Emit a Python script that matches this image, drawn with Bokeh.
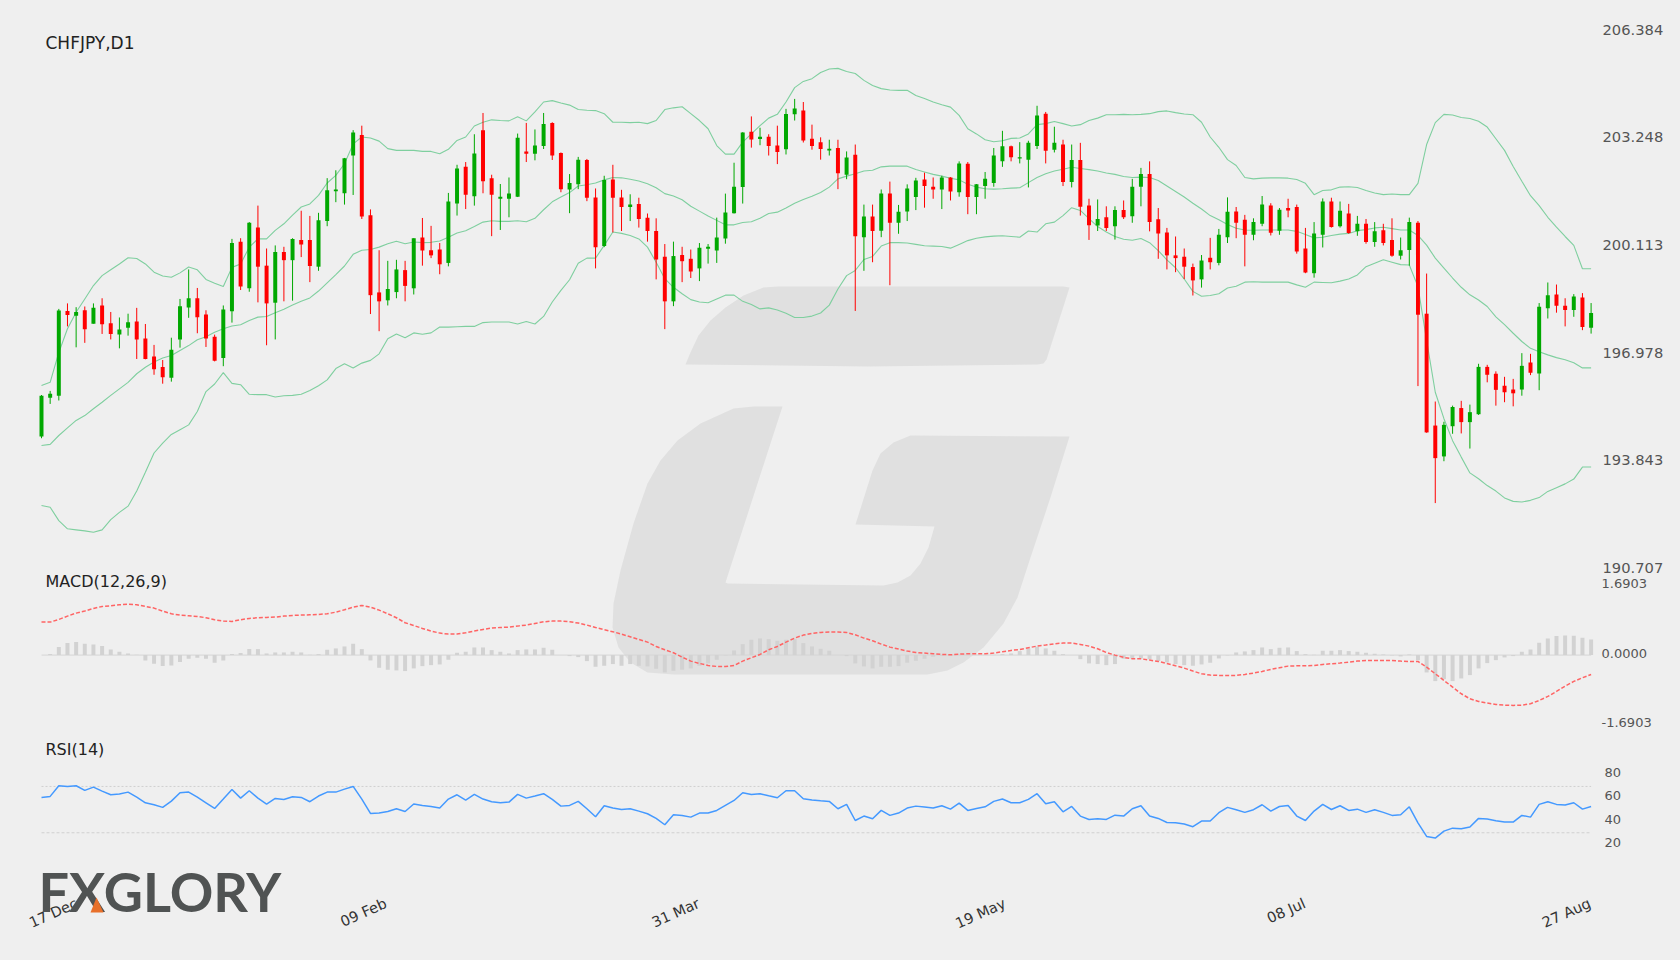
from bokeh.embed import file_html
from bokeh.models import ColumnDataSource, FixedTicker, Label, LinearAxis, NumeralTickFormatter, PolyAnnotation, Range1d
from bokeh.plotting import figure
from bokeh.resources import INLINE

# daily CHFJPY candles
opens = [194.55,195.68,195.74,198.21,198.07,198.23,197.84,198.37,197.85,197.52,
    197.72,197.90,197.41,196.88,196.58,196.26,197.38,198.31,198.58,198.11,
    197.46,196.84,198.20,200.23,198.87,200.64,199.53,198.45,199.93,199.69,
    200.28,200.28,199.50,200.83,201.70,201.64,202.74,203.34,201.00,198.75,
    198.52,198.76,199.40,198.87,200.35,199.98,200.00,199.61,201.34,202.41,
    201.55,203.48,202.08,201.48,201.48,201.54,202.86,202.79,203.02,203.69,
    202.81,201.75,201.90,202.61,201.52,200.10,202.04,201.52,201.24,201.33,
    200.93,200.54,199.79,198.49,199.84,199.73,199.45,200.02,199.97,200.32,
    201.06,201.82,203.43,203.22,203.29,203.03,202.92,203.94,204.05,203.23,
    203.13,202.89,202.96,202.18,202.76,200.36,200.96,200.55,201.63,200.78,
    201.11,201.53,202.04,201.83,201.75,202.10,201.67,202.50,201.53,201.85,
    201.94,202.57,203.01,202.65,202.62,203.02,203.96,202.91,203.06,201.97,
    202.61,201.28,200.70,200.94,200.68,201.15,200.97,201.83,202.20,200.88,
    200.50,199.83,199.79,199.49,199.13,199.76,199.61,200.36,201.11,200.87,
    200.43,200.75,201.28,200.55,201.21,201.24,200.03,199.31,200.43,201.40,
    200.68,201.05,200.53,200.75,200.22,200.56,200.28,199.82,199.99,200.78,
    198.13,194.87,193.97,194.85,195.38,194.97,195.20,196.58,196.38,196.03,
    195.92,195.92,196.71,196.39,198.29,198.69,198.36,198.24,198.60,197.72]
highs = [195.76,195.88,198.27,198.43,198.32,198.34,198.43,198.58,198.18,198.02,
    198.13,198.30,197.83,197.22,196.78,197.43,198.56,199.42,198.88,198.23,
    197.52,198.37,200.31,200.33,200.80,201.28,200.03,200.12,200.08,200.33,
    201.13,200.98,201.07,202.08,202.31,202.67,203.48,203.61,201.17,199.98,
    199.67,199.70,199.67,200.33,200.92,200.69,200.19,201.65,202.47,202.55,
    203.36,203.98,202.18,201.91,202.10,203.38,203.69,203.50,203.98,203.71,
    202.83,202.20,202.70,202.64,201.78,202.15,202.47,201.74,201.61,201.51,
    201.05,200.91,200.16,200.23,200.08,200.00,200.19,200.16,200.93,201.63,
    202.53,203.42,203.88,203.55,203.36,203.61,204.10,204.39,204.30,203.64,
    203.27,203.20,203.20,202.86,203.06,201.31,201.31,201.75,201.98,201.30,
    201.90,202.09,202.24,202.10,202.15,202.11,202.57,202.55,201.91,202.26,
    202.96,203.46,203.03,203.13,203.17,204.19,204.01,203.58,203.20,203.06,
    203.11,201.48,201.46,201.26,201.26,201.43,202.06,202.38,202.57,201.21,
    200.63,200.38,200.03,199.59,199.84,200.34,200.60,201.52,201.24,201.01,
    200.91,201.56,201.35,201.21,201.48,201.31,200.63,200.80,201.49,201.51,
    201.40,201.33,200.98,200.89,200.80,200.75,200.91,200.35,200.93,200.83,
    199.30,195.57,194.98,195.45,195.59,195.48,196.67,196.64,196.45,196.29,
    196.23,196.98,196.96,198.44,199.04,198.98,198.58,198.70,198.73,198.44]
lows = [194.50,195.50,195.60,197.76,197.15,197.28,197.84,197.54,197.38,197.12,
    197.49,196.81,196.80,196.35,196.09,196.15,197.14,198.01,197.56,197.16,
    196.74,196.60,197.87,198.82,198.77,198.46,197.21,197.38,198.49,198.51,
    199.78,199.05,199.38,200.68,201.38,201.31,201.59,200.89,198.12,197.62,
    198.37,198.58,198.49,198.69,199.53,199.75,199.28,199.51,200.99,201.18,
    201.28,201.64,200.39,200.57,200.94,201.53,202.55,202.60,202.93,202.61,
    201.67,201.06,201.76,201.41,199.45,200.07,200.50,200.54,200.83,200.64,
    200.23,199.13,197.68,198.35,199.05,199.17,199.08,199.59,199.61,200.17,
    201.05,201.34,202.97,203.04,202.74,202.49,202.77,203.76,203.12,202.91,
    202.62,202.74,201.76,202.05,198.21,199.38,199.63,200.36,198.96,200.46,
    200.83,201.15,201.22,201.48,201.18,201.43,201.54,201.03,201.03,201.48,
    201.83,202.41,202.57,202.51,201.81,202.93,202.51,202.83,201.85,201.81,
    200.99,200.28,200.54,200.54,200.29,200.89,200.78,201.26,200.53,199.73,
    199.42,199.34,199.14,198.66,198.89,199.42,199.54,200.19,200.33,199.51,
    200.27,200.68,200.41,200.43,200.94,199.88,199.31,199.18,200.06,200.64,
    200.64,200.46,200.40,200.17,200.08,200.12,199.79,199.71,199.53,196.02,
    194.66,192.61,193.83,194.63,194.64,194.20,195.18,196.13,195.45,195.55,
    195.43,195.74,196.34,195.90,197.99,198.16,197.76,198.04,197.65,197.55]
closes = [195.74,195.80,198.22,198.09,198.18,197.68,198.30,197.82,197.54,197.67,
    197.88,197.38,196.81,196.51,196.28,197.08,198.35,198.58,198.03,197.41,
    196.76,198.25,200.19,198.92,200.78,199.50,198.43,199.93,199.69,200.31,
    200.15,199.52,200.85,201.73,201.75,202.66,203.41,200.96,198.67,198.49,
    198.85,199.42,198.94,200.33,199.97,199.83,199.57,201.40,202.36,201.60,
    202.80,201.99,201.60,201.54,201.63,203.26,202.79,203.03,203.66,202.74,
    201.76,201.94,202.62,201.51,200.07,202.03,201.51,201.24,201.31,200.89,
    200.54,199.71,198.49,199.81,199.66,199.36,200.05,200.08,200.35,201.08,
    201.83,203.41,203.21,203.29,203.02,202.84,203.95,204.11,203.18,203.02,
    202.93,202.94,202.22,202.68,200.39,200.96,200.54,201.63,200.78,201.10,
    201.78,202.01,201.85,201.75,202.10,201.69,202.51,201.53,201.90,202.06,
    202.74,203.01,202.69,202.69,203.11,203.91,202.88,203.11,201.97,202.61,
    201.25,200.71,200.89,200.63,201.15,200.94,201.83,202.20,200.80,200.47,
    199.83,199.75,199.50,199.10,199.68,199.63,200.43,201.10,200.78,200.43,
    200.80,201.31,200.49,201.16,201.14,199.94,199.33,200.47,201.40,200.66,
    201.13,200.48,200.75,200.22,200.53,200.19,199.82,199.98,200.80,198.10,
    194.67,193.92,194.89,195.41,194.97,195.26,196.58,196.35,195.91,195.84,
    195.81,196.61,196.41,198.33,198.67,198.36,198.24,198.63,197.74,198.15]

bb_upper = [196.04,196.13,197.00,197.69,198.17,198.56,198.95,199.24,199.41,199.58,
    199.76,199.74,199.58,199.34,199.23,199.19,199.32,199.49,199.41,199.13,
    199.02,198.92,199.48,199.58,200.07,200.31,200.31,200.56,200.75,201.00,
    201.24,201.33,201.58,201.94,202.16,202.50,203.08,203.28,203.25,203.16,
    202.94,202.89,202.89,202.89,202.86,202.86,202.79,202.92,203.18,203.28,
    203.60,203.71,203.78,203.76,203.75,203.87,203.75,204.01,204.30,204.34,
    204.27,204.21,204.08,204.06,204.05,203.96,203.71,203.71,203.70,203.71,
    203.67,203.76,204.08,204.13,204.16,203.96,203.76,203.52,203.03,202.78,
    202.78,203.13,203.37,203.61,203.83,203.94,204.30,204.72,204.90,204.98,
    205.16,205.26,205.28,205.19,205.13,204.93,204.78,204.69,204.65,204.64,
    204.64,204.49,204.40,204.30,204.22,204.15,203.91,203.52,203.37,203.20,
    203.14,203.17,203.24,203.25,203.37,203.64,203.67,203.73,203.67,203.60,
    203.64,203.76,203.83,203.93,203.93,203.94,203.93,203.94,203.96,204.02,
    204.04,203.99,203.95,203.93,203.71,203.28,202.98,202.62,202.45,202.10,
    202.06,202.08,202.09,202.09,202.08,202.04,201.93,201.60,201.72,201.74,
    201.82,201.83,201.81,201.72,201.65,201.60,201.62,201.60,201.60,201.93,
    203.06,203.70,203.94,203.92,203.85,203.82,203.74,203.57,203.23,202.89,
    202.42,201.99,201.57,201.28,200.94,200.65,200.38,200.12,199.44,199.44]
bb_mid = [194.29,194.32,194.58,194.80,195.02,195.16,195.36,195.55,195.75,195.94,
    196.13,196.38,196.57,196.72,196.84,196.91,197.06,197.20,197.37,197.46,
    197.59,197.69,197.77,197.81,197.93,198.03,198.05,198.16,198.26,198.38,
    198.49,198.59,198.79,199.03,199.27,199.52,199.86,199.98,200.00,200.07,
    200.17,200.24,200.17,200.22,200.20,200.21,200.25,200.36,200.48,200.55,
    200.67,200.80,200.84,200.82,200.82,200.84,200.81,200.91,201.16,201.39,
    201.53,201.66,201.85,201.89,201.94,202.03,202.10,202.09,202.05,202.00,
    201.92,201.80,201.63,201.56,201.45,201.26,201.12,200.98,200.85,200.72,
    200.72,200.79,200.81,200.91,201.05,201.09,201.21,201.35,201.46,201.55,
    201.66,201.82,202.06,202.14,202.21,202.29,202.31,202.41,202.43,202.43,
    202.43,202.33,202.26,202.19,202.14,202.08,202.03,201.90,201.82,201.77,
    201.76,201.77,201.79,201.80,201.95,202.10,202.21,202.29,202.34,202.40,
    202.36,202.33,202.29,202.23,202.19,202.13,202.10,202.11,202.10,202.01,
    201.85,201.69,201.53,201.35,201.18,200.99,200.87,200.73,200.62,200.57,
    200.56,200.57,200.57,200.57,200.57,200.53,200.44,200.34,200.36,200.41,
    200.45,200.47,200.55,200.58,200.63,200.65,200.61,200.57,200.57,200.41,
    200.13,199.75,199.46,199.17,198.90,198.68,198.53,198.34,198.04,197.81,
    197.56,197.32,197.12,197.02,196.93,196.85,196.79,196.70,196.55,196.55]
bb_lower = [192.54,192.49,192.10,191.86,191.83,191.80,191.76,191.83,192.13,192.34,
    192.52,192.96,193.51,194.07,194.36,194.61,194.75,194.89,195.28,195.86,
    196.08,196.41,196.10,196.06,195.78,195.77,195.77,195.70,195.74,195.75,
    195.78,195.89,196.03,196.20,196.53,196.67,196.55,196.69,196.77,196.96,
    197.40,197.54,197.43,197.57,197.53,197.57,197.74,197.74,197.75,197.76,
    197.76,197.87,197.89,197.89,197.89,197.83,197.90,197.83,198.05,198.47,
    198.81,199.12,199.60,199.75,199.75,200.12,200.51,200.47,200.41,200.31,
    200.07,199.63,199.15,198.90,198.71,198.54,198.47,198.45,198.56,198.67,
    198.67,198.49,198.40,198.27,198.30,198.24,198.14,198.02,198.02,198.06,
    198.15,198.38,198.85,199.24,199.39,199.71,199.80,200.10,200.20,200.20,
    200.19,200.15,200.11,200.10,200.09,200.04,200.15,200.26,200.33,200.37,
    200.39,200.40,200.38,200.36,200.54,200.51,200.75,200.80,200.99,201.22,
    201.14,200.90,200.67,200.51,200.38,200.30,200.27,200.32,200.20,199.97,
    199.70,199.47,199.14,198.78,198.64,198.66,198.71,198.88,198.93,199.05,
    199.06,199.05,199.05,199.05,199.05,198.97,198.90,199.05,199.04,199.03,
    199.08,199.14,199.26,199.50,199.60,199.70,199.63,199.56,199.55,198.92,
    197.35,195.84,195.07,194.43,193.95,193.49,193.32,193.12,192.96,192.76,
    192.66,192.64,192.69,192.77,192.95,193.06,193.17,193.31,193.66,193.66]

macd_signal = [.797,.797,.861,.942,1.014,1.063,1.127,1.175,1.191,1.216,
    1.232,1.216,1.175,1.135,1.063,.998,.966,.95,.934,.902,
    .853,.821,.813,.853,.886,.902,.91,.918,.942,.958,
    .966,.974,.982,.998,1.038,1.095,1.159,1.199,1.159,1.087,
    .998,.902,.781,.716,.644,.58,.531,.507,.507,.539,
    .58,.62,.652,.668,.676,.7,.725,.765,.805,.821,
    .821,.805,.773,.725,.668,.612,.564,.507,.443,.378,
    .314,.209,.129,.056,-.048,-.145,-.201,-.25,-.274,-.274,
    -.25,-.145,-.064,.016,.129,.209,.314,.411,.483,.523,
    .547,.555,.555,.547,.491,.411,.346,.266,.193,.145,
    .097,.064,.048,.032,.016,.008,.024,.032,.032,.032,
    .048,.081,.113,.137,.177,.217,.242,.274,.29,.29,
    .258,.217,.153,.064,0,-.056,-.089,-.089,-.121,-.153,
    -.201,-.258,-.314,-.386,-.451,-.483,-.491,-.491,-.491,-.467,
    -.435,-.394,-.346,-.306,-.266,-.258,-.258,-.25,-.225,-.209,
    -.193,-.169,-.145,-.129,-.129,-.129,-.129,-.145,-.153,-.153,
    -.29,-.451,-.612,-.773,-.934,-1.055,-1.119,-1.159,-1.191,-1.208,
    -1.216,-1.208,-1.175,-1.095,-.998,-.877,-.749,-.636,-.547,-.467]
macd_hist = [0,.024,.193,.29,.314,.274,.258,.217,.137,.081,
    .04,.008,-.129,-.209,-.266,-.25,-.169,-.089,-.064,-.089,
    -.185,-.129,.024,.048,.145,.145,.04,.064,.064,.081,
    .064,.008,.024,.129,.161,.209,.274,.145,-.129,-.306,
    -.354,-.37,-.386,-.322,-.266,-.242,-.225,-.113,.056,.081,
    .185,.185,.121,.081,.04,.121,.137,.137,.177,.129,
    0,-.024,-.048,-.145,-.282,-.258,-.217,-.258,-.217,-.258,
    -.274,-.33,-.419,-.378,-.354,-.322,-.258,-.201,-.113,-.008,
    .113,.266,.37,.403,.386,.346,.37,.386,.29,.209,
    .153,.105,0,-.024,-.201,-.274,-.322,-.282,-.282,-.266,
    -.185,-.137,-.089,-.04,-.016,.008,.008,.008,.008,.008,
    .008,.024,.04,.097,.161,.201,.161,.105,.024,0,
    -.097,-.201,-.217,-.242,-.217,-.089,-.081,-.081,-.097,-.145,
    -.177,-.217,-.242,-.258,-.225,-.185,-.081,-.008,.064,.089,
    .121,.185,.145,.177,.185,.097,.024,.008,.105,.105,
    .121,.097,.081,.056,.032,.016,-.008,-.032,.016,-.121,
    -.419,-.628,-.58,-.628,-.564,-.483,-.322,-.193,-.121,-.056,
    -.024,.081,.137,.298,.403,.459,.475,.467,.419,.378]
rsi = [60.5,61.4,70.6,70.0,70.6,66.6,69.4,66.0,62.8,63.4,
    65.1,60.8,55.9,54.2,51.9,57.3,64.5,65.1,60.8,55.9,
    51.0,59.1,67.4,59.9,66.3,59.9,54.8,59.6,58.8,61.1,
    60.5,56.8,61.7,65.1,65.1,67.7,70.0,59.1,46.7,47.0,
    48.4,50.7,48.4,54.8,53.6,52.7,51.3,59.1,62.8,58.2,
    63.1,59.1,56.8,55.9,56.5,63.1,59.9,61.7,63.7,58.8,
    53.0,53.6,57.1,50.7,43.8,53.3,51.3,50.1,50.7,48.7,
    46.4,42.4,36.9,45.5,45.0,43.5,47.0,47.0,49.3,53.6,
    57.9,64.5,63.1,63.7,61.9,60.2,66.3,66.3,59.4,58.2,
    57.6,57.1,50.7,54.5,40.6,44.4,42.1,49.3,45.0,47.0,
    51.3,53.0,52.2,51.3,53.3,50.4,55.6,49.3,51.0,52.4,
    57.1,59.1,55.9,55.9,58.8,63.7,55.0,56.8,48.1,52.7,
    44.4,41.5,42.1,41.5,45.2,44.4,50.7,53.3,44.4,42.4,
    38.9,38.6,37.5,35.2,40.1,40.1,47.3,51.9,49.9,47.6,
    49.9,54.2,48.7,52.7,53.6,44.4,40.6,48.7,54.5,50.1,
    53.3,49.3,50.4,47.6,49.9,47.6,45.0,45.5,52.4,38.6,
    26.8,25.4,31.4,34.0,33.4,34.9,42.4,41.8,40.4,39.2,
    39.2,45.0,43.5,54.5,56.8,54.5,53.9,55.9,50.4,52.7]

price_ticks = [206.384, 203.248, 200.113, 196.978, 193.843, 190.707]
macd_ticks = [1.6903, 0.0, -1.6903]
rsi_ticks = [80, 60, 40, 20]
rsi_levels = [70, 30]
# label anchors on the date axis (rotated labels hang to the left of their tick)
date_bars = [4.07, 39.77, 75.92, 111.27, 145.92, 178.87]
date_labels = ["17 Dec", "09 Feb", "31 Mar", "19 May", "08 Jul", "27 Aug"]

# G watermark outline and logo triangle, in page pixels (decoration, not data)
g_top_x = [685,690,698,710,725,743,763,777,1063,1069,1046,1043,1037,867]
g_top_y = [364,352,335,320,307,295,287,286,286,287,359,363,364,366]
g_low_x = [782,725,727,883,897,910,920,928,934,855,872,880,893,910,1069,1050,1030,1017,1003,983,
    963,947,927,673,647,630,618,612,613,620,633,647,660,677,700,733,753]
g_low_y = [406,582,583,585,582,575,563,547,526,524,470,453,442,435,436,497,557,597,623,647,
    662,670,674,674,672,662,647,627,603,570,523,483,460,440,423,408,406]
tri_x = [90, 96, 103]
tri_y = [912, 897, 912]

W, H = 1680, 960
RIGHT, BOTTOM = 1598, 925   # frame edges on the page
bg = "#efefef"

def bar(px):
    return (px - 41) / 8.657

def span(y0, val0, per_px):
    # value range of the frame from one known page height and the scale
    return Range1d(val0 - (BOTTOM - y0) * per_px, val0 + y0 * per_px)

p = figure(width=W, height=H, frame_width=RIGHT, frame_height=BOTTOM, output_backend="svg", toolbar_location=None,
           x_range=Range1d(bar(0), bar(RIGHT)), y_range=span(30, 206.384, 1 / 34.31),
           min_border_left=0, min_border_right=W - RIGHT, min_border_top=0,
           min_border_bottom=H - BOTTOM, background_fill_color=bg,
           border_fill_color=bg, outline_line_color=None, y_axis_location=None)
p.grid.visible = False
# the *_labels ranges carry the printed scale, which sits 1-2px above the plotted one
p.extra_y_ranges = {"macd": span(654.6, 0, 1 / 41.4), "rsi": span(809.1, 50, 1 / 1.158),
                    "price_labels": span(29.3, 206.384, 1 / 34.31),
                    "macd_labels": span(652.5, 0, 1 / 41.4), "rsi_labels": span(807, 50, 1 / 1.158),
                    "page": Range1d(BOTTOM, 0)}
p.extra_x_ranges = {"page": Range1d(0, RIGHT)}

p.patch(g_top_x, g_top_y, x_range_name="page", y_range_name="page", fill_color="#e0e0e0", line_color=None)
p.patch(g_low_x, g_low_y, x_range_name="page", y_range_name="page", fill_color="#e0e0e0", line_color=None)

bars = list(range(len(closes)))
for band in (bb_upper, bb_mid, bb_lower):
    p.line(bars, band, line_color="#7fcf9f", line_width=1.1)

up = [c >= o for o, c in zip(opens, closes)]
src = ColumnDataSource(dict(x=bars, high=highs, low=lows,
                            top=[max(o, c) for o, c in zip(opens, closes)],
                            bottom=[min(o, c) for o, c in zip(opens, closes)],
                            color=["#00a800" if u else "#ff0000" for u in up]))
p.segment("x", "high", "x", "low", source=src, line_color="color", line_width=1)
p.vbar("x", 0.46, "bottom", "top", source=src, fill_color="color", line_color=None)

p.line([0, bars[-1]], [0, 0], y_range_name="macd", line_color="#d6d6d6", line_width=1)
p.vbar(bars, 0.46, bottom=0, top=macd_hist, y_range_name="macd", fill_color="#d2d2d2", line_color=None)
p.line(bars, macd_signal, y_range_name="macd", line_color="#ff6464", line_width=1.5, line_dash="4 2")

p.line([0, bars[-1]], [rsi_levels[0]] * 2, y_range_name="rsi", line_color="#d0d0d0", line_dash="2 2")
p.line([0, bars[-1]], [rsi_levels[1]] * 2, y_range_name="rsi", line_color="#d0d0d0", line_dash="3 2")
p.line(bars, rsi, y_range_name="rsi", line_color="#4499ff", line_width=1.5)

def right_axis(ticks, fmt, range_name, size, standoff):
    # the three axes stack sideways, the negative standoffs bring them back into one column
    ax = LinearAxis(ticker=FixedTicker(ticks=ticks), formatter=NumeralTickFormatter(format=fmt),
                    axis_line_color=None, major_tick_line_color=None,
                    minor_tick_line_color=None, major_tick_in=0, major_tick_out=0,
                    major_label_standoff=standoff, major_label_text_font="DejaVu Sans",
                    major_label_text_font_size=size, major_label_text_color="#555555",
                    y_range_name=range_name)
    p.add_layout(ax, "right")

right_axis(price_ticks, "0.000", "price_labels", "14.7px", 4)
right_axis(macd_ticks, "0.0000", "macd_labels", "13px", -65)
right_axis(rsi_ticks, "0", "rsi_labels", "13px", -62)

xa = p.xaxis[0]
xa.ticker = FixedTicker(ticks=date_bars)
xa.major_label_overrides = dict(zip(date_bars, date_labels))
xa.major_label_orientation = 0.42
xa.axis_line_color = None
xa.major_tick_line_color = None
xa.minor_tick_line_color = None
xa.major_label_standoff = -29
xa.major_label_text_font = "DejaVu Sans"
xa.major_label_text_font_size = "14.5px"
xa.major_label_text_color = "#333333"

for txt, py, size in (("CHFJPY,D1", 42, "17px"), ("MACD(12,26,9)", 581, "16px"), ("RSI(14)", 749, "16px")):
    p.add_layout(Label(x=45, y=BOTTOM - py, x_units="screen", y_units="screen", text=txt,
                       text_font="DejaVu Sans", text_font_size=size, text_color="#222222",
                       text_baseline="middle"))

p.add_layout(Label(x=38, y=BOTTOM - 891, x_units="screen", y_units="screen", text="FXGLORY",
                   text_font="Lato", text_font_size="54px", text_font_style="bold",
                   text_color="#505353", text_baseline="middle"))
p.add_layout(PolyAnnotation(xs=tri_x, ys=[BOTTOM - v for v in tri_y], xs_units="screen",
                            ys_units="screen", fill_color="#e8702a", fill_alpha=1, line_color=None))

html = file_html(p, INLINE).replace("<head>", "<head><style>html,body{background:#efefef;margin:0}</style>", 1)
open("out.html", "w").write(html)
